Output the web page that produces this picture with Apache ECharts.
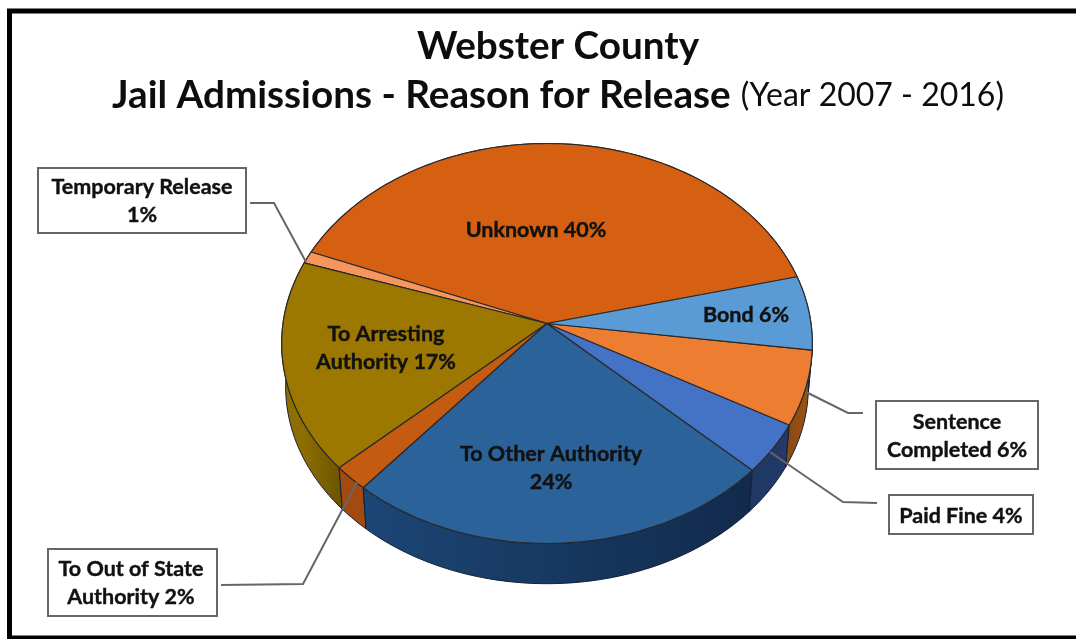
<!DOCTYPE html>
<html>
<head>
<meta charset="utf-8">
<style>html,body{margin:0;padding:0;background:#fff}#chart{width:1076px;height:639px}</style>
<script src="https://cdn.jsdelivr.net/npm/echarts@6/dist/echarts.min.js"></script>
</head>
<body>
<div id="chart"></div>
<script>
// Release reasons, clockwise from the right-hand side of the pie
const categories = ['Unknown', 'Temporary Release', 'To Arresting\nAuthority', 'To Out of State\nAuthority', 'To Other Authority', 'Paid Fine', 'Sentence\nCompleted', 'Bond'];
const percentages = [40, 1, 17, 2, 24, 4, 6, 6];
// Clockwise drawing order starts at Bond
const drawOrder = [7, 6, 5, 4, 3, 2, 1, 0];

const valueBreaks = [' ', '\n', ' ', ' ', '\n', ' ', ' ', ' '];
const topColors = ['#D56011', '#F7965C', '#9C7800', '#C55A11', '#2B6299', '#4472C4', '#ED7D31', '#5B9BD5'];
const sideColors = [
  ['#A04A0E', '#A04A0E'], ['#B86A3A', '#B86A3A'], ['#8E6E00', '#6E5500'], ['#A44A10', '#A44A10'],
  ['#1C4675', '#122A4C'], ['#1F3864', '#22396A'], ['#8C4A12', '#A0540F'], ['#3C6E9E', '#3C6E9E']
];

// Tilted-disc projection
const disc = { cx: 547, cy: 323.5, rx: 264, ry: 198, persp: 0.1, startAngle: 14, depth: 43.5, shrink: 0.985 };

// Annotation layout, one entry per category
const labelAt = [[536, 230], [142, 201], [386, 348], [131, 583], [551, 468], [961, 516], [957, 436], [746, 315]];
const boxes = [null, [38, 168, 208, 65], null, [48, 549, 169, 67], null, [889, 495, 144, 39], [876, 401, 162, 68], null];
const leaders = [
  null,
  [[250, 203], [274, 203], [306, 262]],
  null,
  [[221, 585], [303, 584], [357, 482]],
  null,
  [[770, 452], [843, 502], [877, 503]],
  [[806, 392], [848, 413], [863, 413]],
  null
];

function topPoint(deg) {
  const a = deg * Math.PI / 180;
  const u = Math.cos(a), v = Math.sin(a), w = 1 + disc.persp * v;
  return [disc.cx + disc.rx * u / w, disc.cy - disc.ry * v / w];
}
function bottomPoint(p) {
  return [disc.cx + (p[0] - disc.cx) * disc.shrink, disc.cy + disc.depth + (p[1] - disc.cy) * disc.shrink];
}
function arc(from, to) {
  const pts = [], n = Math.max(2, Math.ceil(Math.abs(to - from) / 1.5));
  for (let i = 0; i <= n; i++) pts.push(topPoint(from + (to - from) * i / n));
  return pts;
}

const total = percentages.reduce((a, b) => a + b, 0);
const startDeg = {};
let running = disc.startAngle;
drawOrder.forEach(i => { startDeg[i] = running; running -= percentages[i] / total * 360; });

function renderSlice(params, api) {
  const i = api.value(0), value = api.value(1);
  const from = startDeg[i], to = from - value / total * 360;
  const rim = arc(from, to);
  const lower = rim.map(bottomPoint).reverse();
  const children = [];

  children.push({
    type: 'polygon', z2: 1,
    shape: { points: rim.concat(lower) },
    style: {
      fill: {
        type: 'linear', global: true,
        x: Math.min(rim[0][0], rim[rim.length - 1][0]), y: 0,
        x2: Math.max(rim[0][0], rim[rim.length - 1][0]), y2: 0,
        colorStops: [{ offset: 0, color: sideColors[i][0] }, { offset: 1, color: sideColors[i][1] }]
      },
      stroke: '#10203a', lineWidth: 1, lineJoin: 'round'
    }
  });
  children.push({
    type: 'polygon', z2: 5,
    shape: { points: [[disc.cx, disc.cy]].concat(rim) },
    style: { fill: topColors[i], stroke: '#2a2a2a', lineWidth: 1.2, lineJoin: 'round' }
  });
  if (leaders[i]) {
    children.push({
      type: 'polyline', z2: 20,
      shape: { points: leaders[i] },
      style: { fill: null, stroke: '#666', lineWidth: 2 }
    });
  }
  if (boxes[i]) {
    const b = boxes[i];
    children.push({
      type: 'rect', z2: 30,
      shape: { x: b[0], y: b[1], width: b[2], height: b[3] },
      style: { fill: '#fff', stroke: '#666', lineWidth: 2 }
    });
  }
  children.push({
    type: 'text', z2: 40,
    x: labelAt[i][0], y: labelAt[i][1],
    style: {
      text: categories[i] + valueBreaks[i] + value + '%',
      fill: '#111', stroke: '#111', lineWidth: 0.4,
      font: 'bold 21.5px Lato, "Open Sans", sans-serif',
      align: 'center', verticalAlign: 'middle', lineHeight: 28
    }
  });
  return { type: 'group', children };
}

const chart = echarts.init(document.getElementById('chart'), null, { renderer: 'canvas' });
chart.setOption({
  animation: false,
  backgroundColor: '#fff',
  title: {
    left: 553, top: 17, textAlign: 'center',
    text: '{b|Webster County}\n{b|Jail Admissions - Reason for Release}{r|(Year 2007 - 2016)}',
    textStyle: {
      rich: {
        b: { fontFamily: 'Lato', fontWeight: 'bold', fontSize: 38.7, color: '#0d0d0d', lineHeight: 49 },
        r: { fontFamily: 'Lato', fontWeight: 'normal', fontSize: 32, color: '#0d0d0d', lineHeight: 49, padding: [0, 0, 0, 10] }
      }
    }
  },
  graphic: [{
    type: 'rect', silent: true,
    shape: { x: 9.5, y: 11, width: 1100, height: 627 },
    style: { fill: null, stroke: '#000', lineWidth: 5 }
  }],
  series: [{
    type: 'custom',
    coordinateSystem: 'none',
    renderItem: renderSlice,
    data: categories.map((c, i) => [i, percentages[i]])
  }]
});
</script>
</body>
</html>
